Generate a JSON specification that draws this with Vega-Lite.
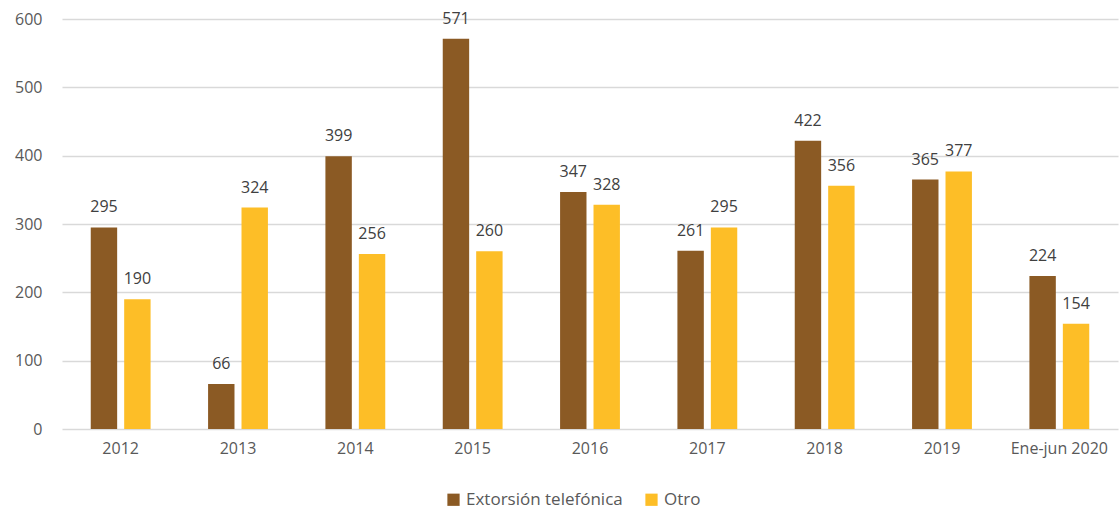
{
  "$schema": "https://vega.github.io/schema/vega-lite/v6.json",
  "width": 1056,
  "height": 410,
  "autosize": "none",
  "padding": {"left": 62, "top": 19, "right": 2, "bottom": 80},
  "background": "white",
  "data": {
    "values": [
      {"periodo": "2012", "tipo": "Extorsión telefónica", "valor": 295},
      {"periodo": "2012", "tipo": "Otro", "valor": 190},
      {"periodo": "2013", "tipo": "Extorsión telefónica", "valor": 66},
      {"periodo": "2013", "tipo": "Otro", "valor": 324},
      {"periodo": "2014", "tipo": "Extorsión telefónica", "valor": 399},
      {"periodo": "2014", "tipo": "Otro", "valor": 256},
      {"periodo": "2015", "tipo": "Extorsión telefónica", "valor": 571},
      {"periodo": "2015", "tipo": "Otro", "valor": 260},
      {"periodo": "2016", "tipo": "Extorsión telefónica", "valor": 347},
      {"periodo": "2016", "tipo": "Otro", "valor": 328},
      {"periodo": "2017", "tipo": "Extorsión telefónica", "valor": 261},
      {"periodo": "2017", "tipo": "Otro", "valor": 295},
      {"periodo": "2018", "tipo": "Extorsión telefónica", "valor": 422},
      {"periodo": "2018", "tipo": "Otro", "valor": 356},
      {"periodo": "2019", "tipo": "Extorsión telefónica", "valor": 365},
      {"periodo": "2019", "tipo": "Otro", "valor": 377},
      {"periodo": "Ene-jun 2020", "tipo": "Extorsión telefónica", "valor": 224},
      {"periodo": "Ene-jun 2020", "tipo": "Otro", "valor": 154}
    ]
  },
  "config": {
    "view": {"stroke": null},
    "font": "Open Sans"
  },
  "encoding": {
    "x": {
      "field": "periodo", "type": "nominal", "sort": null, "title": null,
      "scale": {"paddingInner": 0.49, "paddingOuter": 0.245},
      "axis": {"labelAngle": 0, "domain": false, "ticks": false, "labelFontSize": 16, "labelColor": "#595959", "labelPadding": 11}
    },
    "xOffset": {"field": "tipo", "type": "nominal", "scale": {"paddingInner": 0.21, "paddingOuter": 0}},
    "y": {
      "field": "valor", "type": "quantitative", "title": null,
      "scale": {"domain": [0, 600], "nice": false},
      "axis": {"values": [0, 100, 200, 300, 400, 500, 600], "domain": false, "ticks": false, "gridColor": "#d9d9d9", "gridWidth": 1.3, "labelFontSize": 16, "labelColor": "#595959", "labelPadding": 20}
    }
  },
  "layer": [
    {
      "mark": {"type": "bar"},
      "encoding": {
        "color": {
          "field": "tipo", "type": "nominal", "title": null,
          "scale": {"domain": ["Extorsión telefónica", "Otro"], "range": ["#8B5A24", "#FDBE27"]},
          "legend": {"orient": "none", "direction": "horizontal", "legendX": 383, "legendY": 472, "symbolType": "square", "symbolSize": 150, "labelFontSize": 17, "labelColor": "#595959", "columnPadding": 20, "symbolStrokeWidth": 0}
        }
      }
    },
    {
      "mark": {"type": "text", "baseline": "bottom", "dy": -12, "fontSize": 16, "color": "#404040"},
      "encoding": {"text": {"field": "valor", "type": "quantitative"}}
    }
  ]
}
